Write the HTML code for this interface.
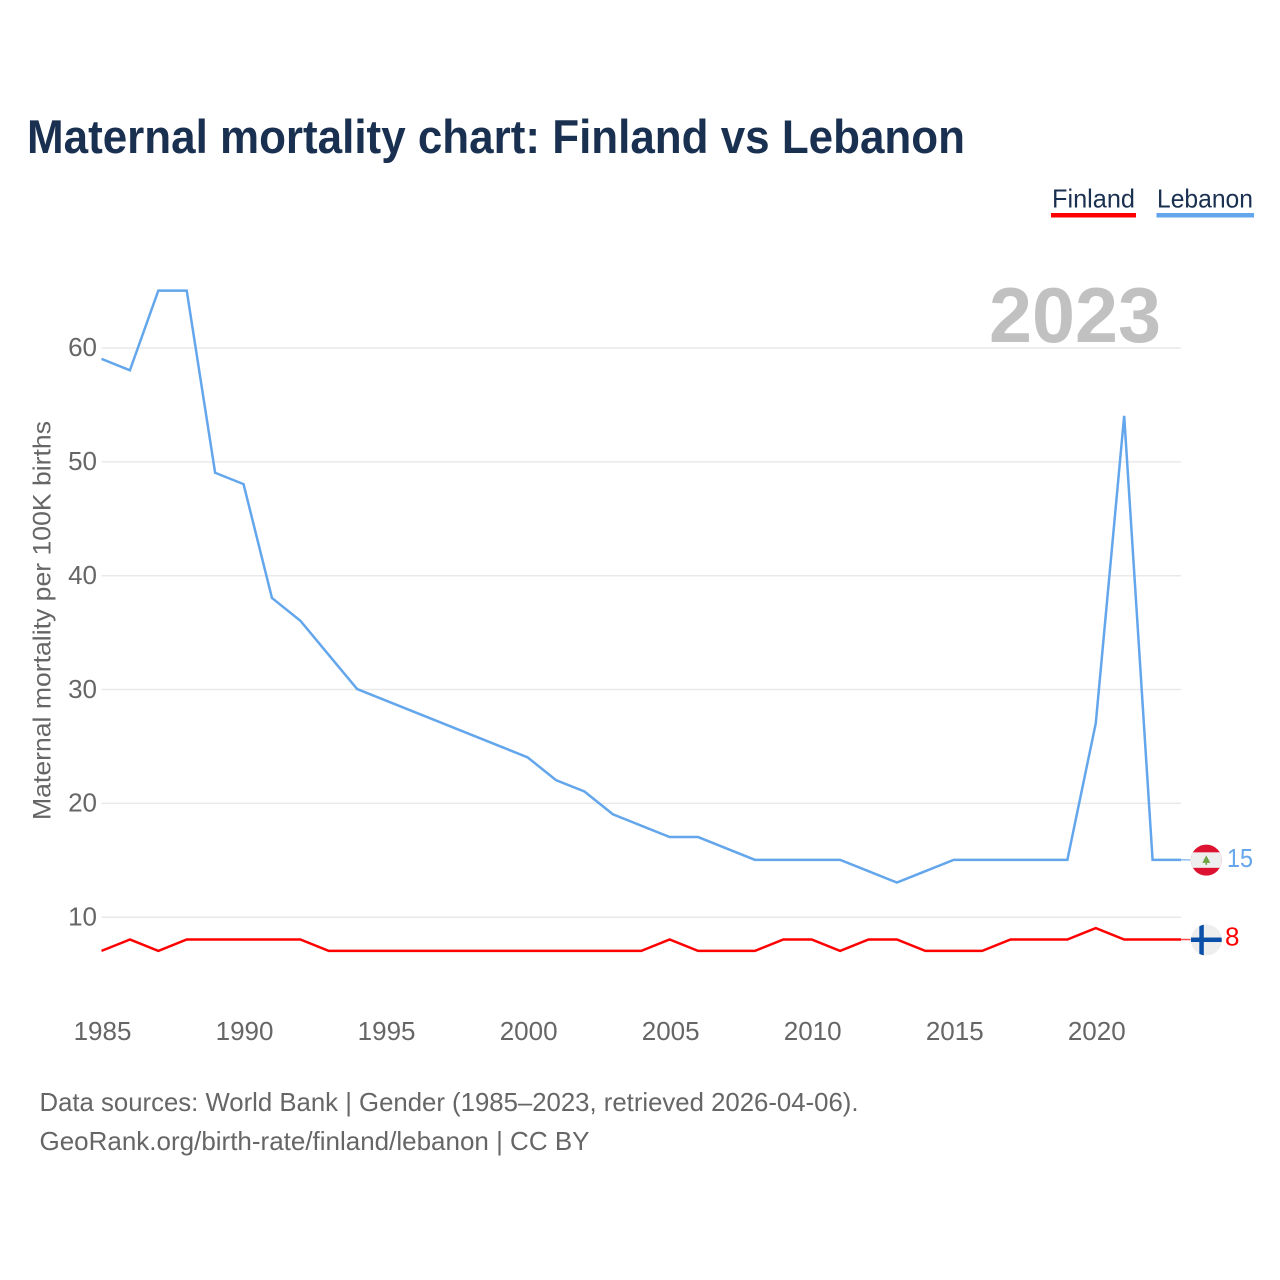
<!DOCTYPE html>
<html>
<head>
<meta charset="utf-8">
<title>Maternal mortality chart: Finland vs Lebanon</title>
<style>
html,body{margin:0;padding:0;background:#fff;width:1280px;height:1280px;overflow:hidden}
svg{display:block}
text{font-family:"Liberation Sans",sans-serif}
</style>
</head>
<body>
<svg id="chart" xmlns="http://www.w3.org/2000/svg" width="1280" height="1280" viewBox="0 0 1280 1280">
  <rect x="0" y="0" width="1280" height="1280" fill="#fff"/>
  <text x="27" y="153" font-size="47" font-weight="700" fill="#1a3050" textLength="938" lengthAdjust="spacingAndGlyphs">Maternal mortality chart: Finland vs Lebanon</text>

  <g>
    <text x="1052" y="207.5" font-size="26" fill="#1a3050" textLength="83" lengthAdjust="spacingAndGlyphs">Finland</text>
    <rect x="1051" y="213" width="85" height="4.5" fill="#ff0000"/>
  </g>
  <g>
    <text x="1157" y="207.5" font-size="26" fill="#1a3050" textLength="96" lengthAdjust="spacingAndGlyphs">Lebanon</text>
    <rect x="1156.5" y="213" width="97.5" height="4.5" fill="#63a6ec"/>
  </g>

  <g id="grid"></g>
  <g id="yticks"></g>
  <g id="xticks"></g>

  <text x="989" y="342" font-size="78" font-weight="700" fill="#c1c1c1" textLength="172" lengthAdjust="spacingAndGlyphs">2023</text>
  <text transform="translate(50.5,820) rotate(-90)" x="0" y="0" font-size="25" fill="#666" textLength="399" lengthAdjust="spacingAndGlyphs">Maternal mortality per 100K births</text>

  <g id="series"></g>
  <g id="ends"></g>

  <text x="39.5" y="1111" font-size="26" fill="#666" textLength="819" lengthAdjust="spacingAndGlyphs">Data sources: World Bank | Gender (1985–2023, retrieved 2026-04-06).</text>
  <text x="39.5" y="1150" font-size="26" fill="#666" textLength="550" lengthAdjust="spacingAndGlyphs">GeoRank.org/birth-rate/finland/lebanon | CC BY</text>
</svg>
<script>
const years = [1985,1986,1987,1988,1989,1990,1991,1992,1993,1994,1995,1996,1997,1998,1999,2000,2001,2002,2003,2004,2005,2006,2007,2008,2009,2010,2011,2012,2013,2014,2015,2016,2017,2018,2019,2020,2021,2022,2023];
const lebanonValues = [59,58,65,65,49,48,38,36,33,30,29,28,27,26,25,24,22,21,19,18,17,17,16,15,15,15,15,14,13,14,15,15,15,15,15,27,54,15,15];
const finlandValues = [7,8,7,8,8,8,8,8,7,7,7,7,7,7,7,7,7,7,7,7,8,7,7,7,8,8,7,8,8,7,7,7,8,8,8,9,8,8,8];
const yTickValues = [10,20,30,40,50,60];
const xTickValues = [1985,1990,1995,2000,2005,2010,2015,2020];

const NS = 'http://www.w3.org/2000/svg';
const xScale = function (year) { return 101.5 + (year - 1985) * (1181 - 101.5) / 38; };
const yScale = function (value) { return 1030.6 - value * 11.385; };

function make(tag, attrs, parent) {
  const el = document.createElementNS(NS, tag);
  Object.keys(attrs).forEach(function (k) { el.setAttribute(k, attrs[k]); });
  parent.appendChild(el);
  return el;
}

const gridGroup = document.getElementById('grid');
const yTickGroup = document.getElementById('yticks');
const xTickGroup = document.getElementById('xticks');
const seriesGroup = document.getElementById('series');
const endsGroup = document.getElementById('ends');

yTickValues.forEach(function (v) {
  const gy = yScale(v) + 0.5;
  const line = make('line', {x1: 101.5, x2: 1181, y1: gy, y2: gy, stroke: '#e9e9e9', 'stroke-width': 1.5}, gridGroup);
  
  
  const label = make('text', {x: 97, y: gy + 8.2, 'text-anchor': 'end', 'font-size': 26, fill: '#666'}, yTickGroup);
  label.textContent = String(v);
  
  
});

xTickValues.forEach(function (y) {
  const label = make('text', {x: xScale(y) + 1, y: 1040, 'text-anchor': 'middle', 'font-size': 26, fill: '#666'}, xTickGroup);
  label.textContent = String(y);
  
  
});

function linePoints(values) {
  return values.map(function (v, i) { return xScale(years[i]).toFixed(2) + ',' + yScale(v).toFixed(2); }).join(' ');
}

const lebanonLine = make('polyline', {points: linePoints(lebanonValues), fill: 'none', stroke: '#63a6ec', 'stroke-width': 2.5, 'stroke-linejoin': 'miter'}, seriesGroup);



const finlandLine = make('polyline', {points: linePoints(finlandValues), fill: 'none', stroke: '#ff0000', 'stroke-width': 2.5, 'stroke-linejoin': 'miter'}, seriesGroup);



const lastYear = years[years.length - 1];
const lebanonLast = lebanonValues[lebanonValues.length - 1];
const finlandLast = finlandValues[finlandValues.length - 1];
const flagX = xScale(lastYear) + 25.3;

/* Lebanon end marker */
const lebY = yScale(lebanonLast);
const lebGroup = make('g', {}, endsGroup);


make('line', {x1: xScale(lastYear), x2: flagX - 16, y1: lebY, y2: lebY, stroke: '#63a6ec', 'stroke-width': 1.5, opacity: 0.7}, lebGroup);
const clipLeb = make('clipPath', {id: 'clip-leb'}, lebGroup);
make('circle', {cx: flagX, cy: lebY + 0.3, r: 15.5}, clipLeb);
make('rect', {x: flagX - 16, y: lebY - 16, width: 32, height: 33, fill: '#dd1230', 'clip-path': 'url(#clip-leb)'}, lebGroup);
make('rect', {x: flagX - 16, y: lebY - 7.5, width: 32, height: 15.5, fill: '#eeeeee', 'clip-path': 'url(#clip-leb)'}, lebGroup);
make('path', {d: 'M' + flagX + ' ' + (lebY - 4.5) + 'l4 7.5h-3.2v2h-1.6v-2h-3.2z', fill: '#6ea243'}, lebGroup);

const lebLabel = make('text', {x: 1227, y: lebY + 7.2, 'font-size': 26, fill: '#63a6ec', textLength: 26, lengthAdjust: 'spacingAndGlyphs'}, endsGroup);
lebLabel.textContent = String(lebanonLast);



/* Finland end marker */
const finY = yScale(finlandLast);
const finGroup = make('g', {}, endsGroup);


make('line', {x1: xScale(lastYear), x2: flagX - 16, y1: finY, y2: finY, stroke: '#ff0000', 'stroke-width': 1.5, opacity: 0.7}, finGroup);
const clipFin = make('clipPath', {id: 'clip-fin'}, finGroup);
make('circle', {cx: flagX, cy: finY + 0.5, r: 15.5}, clipFin);
make('rect', {x: flagX - 16, y: finY - 16, width: 32, height: 33, fill: '#eeeeee', 'clip-path': 'url(#clip-fin)'}, finGroup);
make('rect', {x: flagX - 16, y: finY - 2, width: 32, height: 4.5, fill: '#0a50a8', 'clip-path': 'url(#clip-fin)'}, finGroup);
make('rect', {x: flagX - 7, y: finY - 16, width: 4.5, height: 33, fill: '#0a50a8', 'clip-path': 'url(#clip-fin)'}, finGroup);

const finLabel = make('text', {x: 1225, y: finY + 6, 'font-size': 26, fill: '#ff0000'}, endsGroup);
finLabel.textContent = String(finlandLast);


</script>
</body>
</html>
